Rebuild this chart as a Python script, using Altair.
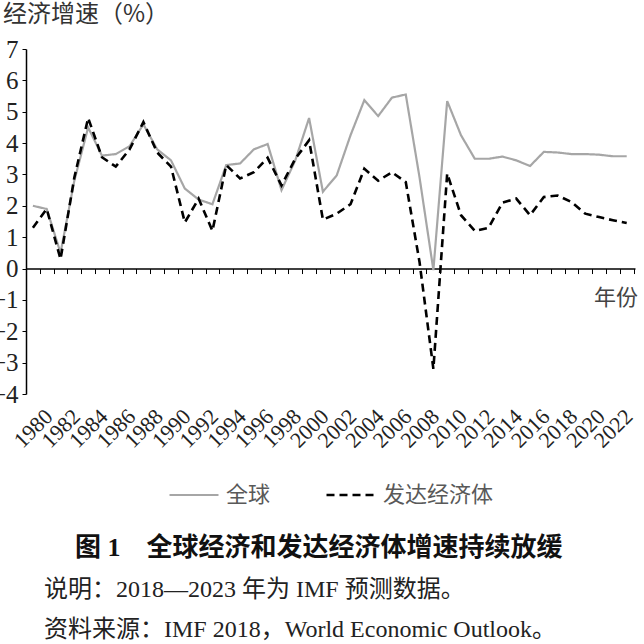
import altair as alt
import pandas as pd

# ---------------- data ----------------
years = list(range(1980, 2024))
world = [2.0, 1.9, 0.5, 2.8, 4.5, 3.6, 3.65, 3.9, 4.6, 3.8,
         3.45, 2.55, 2.2, 2.05, 3.3, 3.35, 3.8, 3.97, 2.5, 3.45,
         4.8, 2.45, 2.97, 4.25, 5.37, 4.86, 5.45, 5.55, 2.9, -0.05,
         5.34, 4.25, 3.5, 3.5, 3.57, 3.45, 3.27, 3.72, 3.7, 3.65,
         3.65, 3.63, 3.58, 3.58]
advanced = [1.3, 1.9, 0.3, 2.9, 4.8, 3.55, 3.25, 3.8, 4.67, 3.7,
            3.25, 1.47, 2.23, 1.2, 3.3, 2.87, 3.07, 3.53, 2.65, 3.5,
            4.09, 1.56, 1.75, 2.05, 3.18, 2.8, 3.07, 2.76, 0.2, -3.2,
            3.03, 1.7, 1.2, 1.3, 2.1, 2.23, 1.7, 2.28, 2.33, 2.12,
            1.75, 1.64, 1.54, 1.45]
series_names = ["全球", "发达经济体"]
label_years = years[::2]
tick_years = [y + 0.5 for y in years]
y_ticks = list(range(-4, 8))

y_title = "经济增速（%）"
x_title = "年份"
caption = "图 1　全球经济和发达经济体增速持续放缓"
note = "说明：2018—2023 年为 IMF 预测数据。"
source = "资料来源：IMF 2018，World Economic Outlook。"

df = pd.DataFrame({
    "year": years * 2,
    "value": world + advanced,
    "series": [series_names[0]] * len(years) + [series_names[1]] * len(years),
})

# ---------------- layout ----------------
W, H = 609, 345
Y_MIN, Y_MAX = -4, 7
X_MIN, X_MAX = 1979.5, 2023.6
zero_offset = -H * (0 - Y_MIN) / (Y_MAX - Y_MIN)

SERIF = "'Liberation Serif', 'Noto Sans CJK SC'"
CJK = "'Noto Sans CJK SC'"

x_scale = alt.Scale(domain=[X_MIN, X_MAX], nice=False, zero=False)
y_scale = alt.Scale(domain=[Y_MIN, Y_MAX], nice=False)

legend = alt.Legend(
    title=None, orient="none", legendX=142, legendY=420, direction="horizontal",
    symbolType="stroke", symbolSize=2401, symbolStrokeWidth=2,
    labelFont=CJK, labelFontSize=22, labelColor="#595959", labelOffset=6,
    columnPadding=50, padding=0,
)

lines = alt.Chart(df).mark_line().encode(
    x=alt.X("year:Q", scale=x_scale, axis=alt.Axis(
        title=None, values=label_years, format="d", labelAngle=315,
        labelAlign="center", labelBaseline="middle", labelPadding=34,
        labelFont=SERIF, labelFontSize=22, labelColor="#222",
        labelOverlap=False, domain=False, ticks=False, tickSize=0, grid=False)),
    y=alt.Y("value:Q", scale=y_scale, axis=alt.Axis(
        title=None, values=y_ticks, format="d", labelFont=SERIF,
        labelFontSize=25, labelColor="#222", labelPadding=4, tickSize=4,
        tickColor="#000", domainColor="#000", domainWidth=1.5, grid=False,
        labelOverlap=False)),
    color=alt.Color("series:N", scale=alt.Scale(domain=series_names, range=["#a6a6a6", "#000000"]), legend=legend),
    strokeDash=alt.StrokeDash("series:N", scale=alt.Scale(domain=series_names, range=[[1, 0], [8, 5]]), legend=legend),
    strokeWidth=alt.StrokeWidth("series:N", scale=alt.Scale(domain=series_names, range=[2.2, 2.6]), legend=None),
)

zero_axis = alt.Chart(pd.DataFrame({"year": tick_years})).mark_point(opacity=0).encode(
    x=alt.X("year:Q", scale=x_scale, axis=alt.Axis(
        title=None, orient="bottom", offset=zero_offset, values=tick_years,
        labels=False, tickSize=5, tickColor="#000", tickWidth=1,
        domainColor="#000", domainWidth=1.5, grid=False)),
)


def text_layer(txt, x, y, font, size, color, weight="normal", align="left"):
    return alt.Chart(pd.DataFrame({"t": [txt]})).mark_text(
        font=font, fontSize=size, color=color, fontWeight=weight,
        align=align, baseline="middle",
    ).encode(text="t:N", x=alt.value(x), y=alt.value(y))


texts = [
    text_layer(y_title, -23, -34, CJK, 24, "#333"),
    text_layer(x_title, 612, 249, CJK, 22, "#444", align="right"),
    text_layer(caption, 49, 499, SERIF, 26, "#111", weight="bold"),
    text_layer(note, 18, 541, SERIF, 24, "#222"),
    text_layer(source, 18, 581, SERIF, 24, "#222"),
]

chart = alt.layer(lines, zero_axis, *texts).properties(
    width=W, height=H,
    autosize=alt.AutoSizeParams(type="none"),
    padding={"left": 26, "top": 49, "right": 644 - 26 - W, "bottom": 644 - 49 - H},
    background="white",
).resolve_axis(x="independent").configure_view(stroke=None)

chart.save("out.html", embed_options={"renderer": "svg", "actions": False})
